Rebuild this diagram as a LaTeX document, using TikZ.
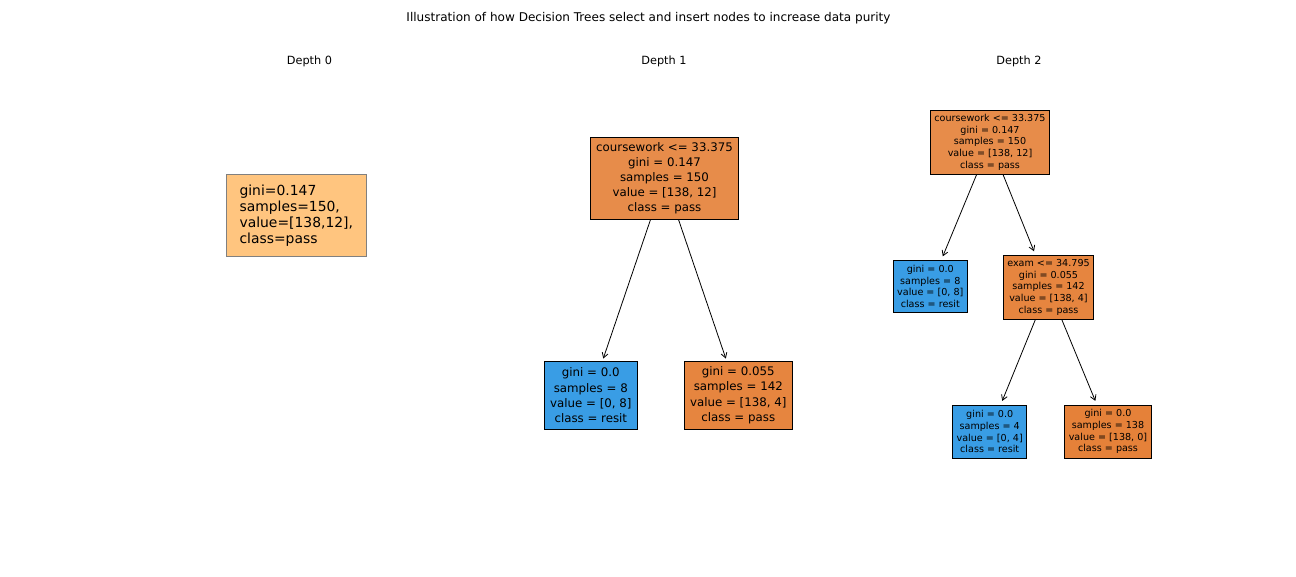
\documentclass[tikz,border=0pt]{standalone}
\usepackage{fontspec}
\setmainfont{DejaVu Sans}
\usetikzlibrary{arrows.meta}
\definecolor{orA}{RGB}{231,140,74}
\definecolor{orB}{RGB}{230,133,63}
\definecolor{orC}{RGB}{229,129,57}
\definecolor{blu}{RGB}{57,157,229}
\definecolor{lor}{RGB}{255,197,127}
\definecolor{gbord}{RGB}{128,128,128}
\begin{document}
\begin{tikzpicture}[x=1pt,y=-1pt,
  box/.style={draw=black,line width=0.9pt,inner sep=0pt,align=center,anchor=center},
  big/.style={box,font=\fontsize{11.8}{15.1}\selectfont},
  small/.style={box,font=\fontsize{9.6}{11.7}\selectfont},
  lbl/.style={font=\fontsize{11.3}{13}\selectfont,inner sep=0pt,anchor=base},
  arr/.style={draw=black,line width=0.8pt,-{Straight Barb[length=5pt,width=6pt]}},
]
\useasboundingbox (0,0) rectangle (1296,576);
\fill[white] (0,0) rectangle (1296,576);

\node[lbl,font=\fontsize{12.05}{14}\selectfont] (title) at (648.5,21.9) {Illustration of how Decision Trees select and insert nodes to increase data purity};
\node[lbl] (lab0) at (309.5,64.3) {Depth 0};
\node[lbl] (lab1) at (664,64.3) {Depth 1};
\node[lbl] (lab2) at (1019,64.3) {Depth 2};

% Depth 0
\node[draw=gbord,fill=lor,line width=0.9pt,inner sep=0pt,align=left,
      minimum width=139.7pt,minimum height=82.4pt,
      font=\fontsize{13.9}{16.2}\selectfont] (d0) at (296.3,215.5)
  {gini=0.147\\samples=150,\\value=[138,12],\\class=pass};

% Depth 1
\node[big,fill=orA,minimum width=148.4pt,minimum height=82pt] (r1) at (664.5,178.3)
  {coursework <= 33.375\\gini = 0.147\\samples = 150\\value = [138, 12]\\class = pass};
\node[big,fill=blu,minimum width=93pt,minimum height=67.7pt] (c1a) at (590.8,395.2)
  {gini = 0.0\\samples = 8\\value = [0, 8]\\class = resit};
\node[big,fill=orB,minimum width=108pt,minimum height=67.7pt] (c1b) at (738.3,395.2)
  {gini = 0.055\\samples = 142\\value = [138, 4]\\class = pass};
\draw[arr,shorten >=2.5pt] (r1) -- (c1a);
\draw[arr,shorten >=2.5pt] (r1) -- (c1b);

% Depth 2
\node[small,fill=orA,minimum width=119.4pt,minimum height=63.7pt] (r2) at (990,142.2)
  {coursework <= 33.375\\gini = 0.147\\samples = 150\\value = [138, 12]\\class = pass};
\node[small,fill=blu,minimum width=74pt,minimum height=52.4pt] (c2a) at (930.3,286.5)
  {gini = 0.0\\samples = 8\\value = [0, 8]\\class = resit};
\node[small,fill=orB,minimum width=89.6pt,minimum height=64pt] (c2b) at (1048.5,287.3)
  {exam <= 34.795\\gini = 0.055\\samples = 142\\value = [138, 4]\\class = pass};
\node[small,fill=blu,minimum width=74pt,minimum height=53.3pt] (c2c) at (989.7,431.7)
  {gini = 0.0\\samples = 4\\value = [0, 4]\\class = resit};
\node[small,fill=orC,minimum width=87.4pt,minimum height=53.3pt] (c2d) at (1108,431.7)
  {gini = 0.0\\samples = 138\\value = [138, 0]\\class = pass};
\draw[arr,shorten >=3.8pt] (r2) -- (c2a);
\draw[arr,shorten >=3.8pt] (r2) -- (c2b);
\draw[arr,shorten >=4pt] (c2b) -- (c2c);
\draw[arr,shorten >=4pt] (c2b) -- (c2d);
\end{tikzpicture}
\end{document}
